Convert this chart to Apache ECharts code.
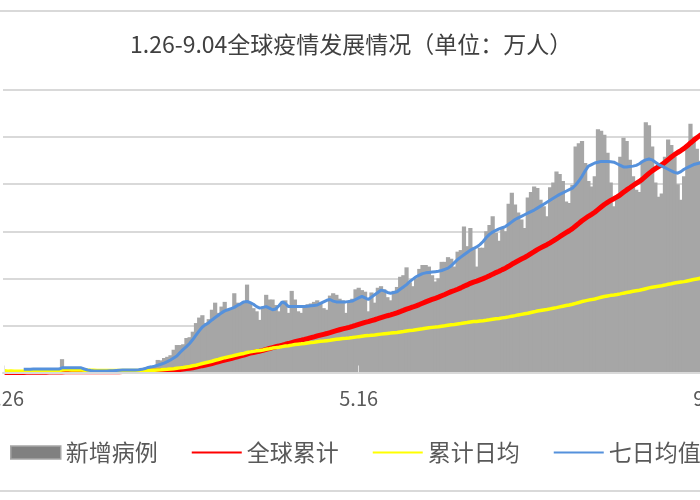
<!DOCTYPE html>
<html><head><meta charset="utf-8">
<script src="https://cdn.jsdelivr.net/npm/echarts@6/dist/echarts.min.js"></script>
<style>html,body{margin:0;padding:0;background:#fff;overflow:hidden}#c{width:700px;height:500px}</style>
</head><body><div id="c"></div>
<script>
// categories: daily dates 1.26 .. 9.04 (format m.dd)
const monthSpans = [[1,26,31],[2,1,29],[3,1,31],[4,1,30],[5,1,31],[6,1,30],[7,1,31],[8,1,31],[9,1,4]];
const dates = [];
monthSpans.forEach(function(s){ for (let d = s[1]; d <= s[2]; d++) dates.push(s[0] + '.' + (d < 10 ? '0' + d : d)); });

const titleText = '1.26-9.04全球疫情发展情况（单位：万人）';
const seriesNames = ['新增病例', '全球累计', '累计日均', '七日均值'];

// 新增病例 (万人)
const newCases = [
0.07,0.08,0.27,0.06,0.21,0.17,0.21,
0.47,0.31,0.40,0.37,0.32,0.36,0.27,
0.30,0.26,0.20,0.04,1.70,0.65,0.21,
0.22,0.20,0.19,0.05,0.06,0.06,0.18,
0.04,0.06,0.08,0.10,0.14,0.14,0.19,
0.24,0.19,0.25,0.23,0.28,0.39,0.40,
0.40,0.38,0.45,0.55,0.60,0.75,1.60,
1.55,1.85,2.00,2.20,2.90,3.50,3.50,
3.60,4.40,4.50,5.20,6.30,7.00,7.30,
6.30,6.80,8.00,8.90,7.60,8.40,9.00,
8.00,8.20,10.10,8.90,8.80,9.10,11.20,
8.90,8.20,7.80,6.70,8.40,9.90,9.30,
9.30,8.60,7.80,9.00,9.20,7.60,10.40,
9.30,7.80,7.60,8.40,8.70,8.80,9.00,
9.20,8.90,8.20,8.00,9.80,10.10,9.90,
9.40,9.20,7.60,9.10,9.40,10.60,10.80,
10.50,10.30,7.80,10.20,8.90,10.80,11.00,
10.60,9.60,9.20,10.40,10.90,12.20,12.40,
13.40,11.50,11.00,12.00,13.20,13.70,13.70,
13.50,12.40,11.60,12.00,14.10,14.10,14.70,
14.50,13.50,15.40,15.60,18.60,16.10,18.40,
16.00,13.50,15.90,15.90,18.00,18.80,19.90,
17.80,16.80,18.50,18.00,21.50,22.90,21.40,
20.40,19.50,18.40,22.30,23.00,23.70,23.50,
22.00,21.20,19.90,23.60,24.20,25.60,25.30,
24.40,21.80,21.60,23.90,28.80,29.20,29.50,
26.70,24.40,23.70,25.00,31.00,30.80,30.30,
28.00,24.20,21.20,22.50,27.50,29.90,29.50,
27.10,25.00,23.30,23.00,27.00,31.90,31.50,
28.80,24.20,22.40,22.80,27.50,29.70,29.00,
27.50,24.00,22.00,25.00,28.80,31.70,30.00,
28.50,27.00,25.00,28.50,29.50,31.50
];

// 全球累计 (万人, right axis)
const cumulative = [
0.21,0.29,0.56,0.62,0.83,1.00,1.21,
1.68,1.99,2.39,2.76,3.08,3.44,3.71,
4.01,4.27,4.47,4.51,6.21,6.86,7.07,
7.29,7.49,7.68,7.73,7.79,7.85,8.03,
8.07,8.13,8.21,8.31,8.45,8.59,8.78,
9.02,9.21,9.46,9.69,9.97,10.36,10.76,
11.16,11.54,11.99,12.54,13.14,13.89,15.49,
17.0,18.9,20.9,23.1,26.0,29.5,33.0,
36.6,41.0,45.5,50.7,57.0,64.6,72.4,
79.1,86.5,95.2,104.8,113.2,122.6,132.6,
140.3,148.2,158.7,167.1,176.3,184.8,196.3,
205.5,212.9,220.9,226.6,235.2,245.3,254.8,
264.3,273.0,281.0,290.2,299.6,307.3,317.9,
327.4,335.4,343.1,351.7,360.6,369.5,378.7,
388.1,397.2,405.5,413.7,423.7,434.0,444.1,
453.7,463.1,470.8,480.1,489.7,500.5,511.5,
522.2,532.7,540.7,551.1,560.2,571.2,582.4,
593.2,603.0,612.4,623.0,634.1,646.6,659.2,
672.9,684.6,695.8,708.1,721.5,735.5,749.5,
763.3,775.9,787.7,800.0,814.4,828.7,843.7,
858.5,870.6,884.5,898.6,915.6,930.1,946.8,
960.1,970.7,983.7,996.6,1011.5,1027.0,1044.6,
1061.1,1075.5,1092.6,1108.1,1128.0,1149.3,1167.9,
1186.7,1204.5,1221.2,1241.6,1262.8,1283.2,1304.6,
1323.3,1341.0,1357.4,1377.3,1397.7,1419.3,1442.0,
1463.8,1484.7,1505.3,1528.2,1555.7,1583.6,1611.8,
1635.6,1658.9,1679.8,1701.9,1729.6,1757.1,1784.0,
1806.8,1827.8,1845.9,1865.2,1887.2,1913.4,1939.1,
1962.5,1986.0,2007.9,2029.5,2054.9,2084.9,2114.5,
2141.6,2164.3,2185.4,2206.8,2232.7,2260.6,2287.9,
2313.7,2336.3,2357.0,2380.4,2407.5,2437.3,2465.5,
2492.3,2517.7,2541.2,2568.0,2595.7,2625.3
];

// 累计日均 (万人)
const dailyAverage = [
0.21,0.15,0.19,0.16,0.17,0.17,0.17,
0.21,0.22,0.24,0.25,0.26,0.26,0.27,
0.27,0.27,0.26,0.25,0.33,0.34,0.34,
0.33,0.33,0.32,0.31,0.30,0.29,0.29,
0.28,0.27,0.26,0.26,0.26,0.25,0.25,
0.25,0.25,0.25,0.25,0.25,0.25,0.26,
0.26,0.26,0.27,0.27,0.28,0.29,0.32,
0.34,0.37,0.40,0.44,0.48,0.54,0.59,
0.64,0.71,0.77,0.85,0.93,1.04,1.15,
1.24,1.33,1.44,1.56,1.66,1.78,1.89,
1.98,2.06,2.17,2.26,2.35,2.43,2.55,
2.63,2.69,2.76,2.80,2.87,2.96,3.03,
3.11,3.17,3.23,3.30,3.37,3.41,3.49,
3.56,3.61,3.65,3.70,3.76,3.81,3.86,
3.92,3.97,4.01,4.06,4.11,4.17,4.23,
4.28,4.33,4.36,4.40,4.45,4.51,4.57,
4.62,4.67,4.70,4.75,4.79,4.84,4.89,
4.94,4.98,5.02,5.07,5.11,5.17,5.23,
5.30,5.35,5.39,5.45,5.51,5.57,5.64,
5.70,5.75,5.79,5.84,5.90,5.96,6.03,
6.09,6.13,6.19,6.24,6.31,6.37,6.44,
6.49,6.51,6.56,6.60,6.65,6.71,6.78,
6.85,6.89,6.96,7.01,7.09,7.18,7.25,
7.34,7.41,7.48,7.55,7.65,7.73,7.83,
7.90,7.97,8.03,8.11,8.19,8.27,8.36,
8.45,8.53,8.61,8.70,8.81,8.92,9.04,
9.13,9.22,9.29,9.37,9.48,9.59,9.68,
9.76,9.83,9.88,9.94,10.02,10.11,10.19,
10.27,10.35,10.42,10.49,10.57,10.68,10.78,
10.87,10.94,11.00,11.06,11.14,11.24,11.31,
11.40,11.46,11.52,11.58,11.67,11.76,11.84,
11.92,12.00,12.06,12.14,12.21,12.30
];

// 七日均值 (万人)
const sevenDayAvg = [
null,null,null,null,null,null,
0.40,0.42,0.43,0.44,0.45,0.45,0.45,0.45,
0.45,0.45,0.44,0.44,0.60,0.62,0.62,
0.62,0.62,0.61,0.60,0.45,0.32,0.25,
0.20,0.20,0.20,0.20,0.20,0.21,0.22,
0.26,0.30,0.32,0.32,0.32,0.32,0.33,
0.35,0.40,0.50,0.65,0.72,0.80,0.92,
1.05,1.20,1.38,1.60,1.85,2.10,2.55,
2.95,3.30,3.70,4.20,4.75,5.30,5.80,
6.10,6.35,6.70,7.00,7.30,7.60,7.85,
8.00,8.15,8.30,8.55,8.75,9.00,9.05,
8.90,8.70,8.40,8.20,8.30,8.40,8.20,
8.00,8.10,8.50,9.00,8.80,8.40,8.40,
8.40,8.40,8.40,8.40,8.45,8.50,8.55,
8.60,8.80,9.00,9.20,9.30,9.10,9.00,
9.00,9.00,9.00,9.05,9.10,9.30,9.50,
9.70,9.50,9.30,9.60,9.90,10.20,10.50,
10.40,10.20,10.10,10.20,10.30,10.60,10.90,
11.20,11.60,11.90,12.20,12.40,12.60,12.70,
12.75,12.80,12.85,12.90,13.00,13.15,13.30,
13.60,14.00,14.40,14.70,15.00,15.30,15.60,
15.80,16.00,16.30,16.70,17.20,17.60,17.90,
18.10,18.30,18.45,18.60,18.90,19.20,19.50,
19.70,19.90,20.10,20.30,20.50,20.70,20.95,
21.20,21.45,21.70,21.95,22.20,22.45,22.70,
22.90,23.10,23.30,23.50,23.90,24.40,25.00,
25.70,26.30,26.50,26.70,26.80,26.90,26.90,
26.90,26.85,26.80,26.60,26.40,26.20,26.20,
26.25,26.30,26.40,26.60,26.90,27.10,27.20,
27.10,26.80,26.50,26.30,26.10,25.90,25.70,
25.50,25.40,25.60,25.90,26.10,26.30,26.50,
26.60,26.70,26.80,26.90,27.00,27.20
];

[newCases, cumulative, dailyAverage, sevenDayAvg].forEach(function(a, k){
  if (a.length !== dates.length) throw new Error('length mismatch in series ' + k + ': ' + a.length + ' vs ' + dates.length);
});

const FONT = '"Noto Sans CJK SC", "Microsoft YaHei", sans-serif';
const hiddenDot = {opacity: 0, color: 'rgba(0,0,0,0)', borderWidth: 0};
const chart = echarts.init(document.getElementById('c'), null, {renderer: 'canvas'});
chart.setOption({
  animation: false,
  backgroundColor: '#ffffff',
  title: {
    text: titleText, left: 130, top: 33, padding: 0,
    textStyle: {fontFamily: FONT, fontSize: 23, fontWeight: 'normal', color: '#404040'}
  },
  legend: {
    left: 10, top: 441, width: 900, padding: 0, itemGap: 33, itemWidth: 50, itemHeight: 13,
    textStyle: {fontFamily: FONT, fontSize: 23, color: '#595959'},
    data: [
      {name: seriesNames[0], icon: 'rect', itemStyle: {color: '#808080', borderColor: '#a6a6a6', borderWidth: 1.5, decal: 'none'}},
      {name: seriesNames[1], itemStyle: hiddenDot},
      {name: seriesNames[2], itemStyle: hiddenDot},
      {name: seriesNames[3], itemStyle: hiddenDot}
    ]
  },
  graphic: [
    {type: 'line', shape: {x1: 0, y1: 11, x2: 700, y2: 11}, style: {stroke: '#d9d9d9', lineWidth: 2}, silent: true},
    {type: 'line', shape: {x1: 0, y1: 491, x2: 700, y2: 491}, style: {stroke: '#d9d9d9', lineWidth: 2}, silent: true}
  ],
  grid: {left: 3, top: 90, width: 711.4, height: 282.5, containLabel: false, outerBoundsMode: 'none'},
  xAxis: {
    type: 'category', data: dates, boundaryGap: true, z: 5,
    axisLine: {lineStyle: {color: '#d9d9d9', width: 2}},
    axisTick: {show: true, inside: true, length: 7, interval: 110, alignWithLabel: true, lineStyle: {color: '#e3e3e3', width: 1}},
    axisLabel: {interval: 110, fontFamily: FONT, fontSize: 20, color: '#595959', margin: 16, hideOverlap: false},
    splitLine: {show: false}
  },
  yAxis: [
    {type: 'value', min: 0, max: 36, interval: 6,
     axisLine: {show: false}, axisTick: {show: false}, axisLabel: {show: false},
     splitLine: {lineStyle: {color: '#d9d9d9', width: 2}}},
    {type: 'value', min: 0, max: 3000, interval: 500, show: false, splitLine: {show: false}}
  ],
  series: [
    {name: seriesNames[0], type: 'bar', data: newCases, barWidth: 4.2,
     itemStyle: {color: '#a6a6a6'}},
    {name: seriesNames[1], type: 'line', yAxisIndex: 1, data: cumulative, symbol: 'none',
     lineStyle: {color: '#ff0000', width: 5}, itemStyle: {color: '#ff0000'}},
    {name: seriesNames[2], type: 'line', data: dailyAverage, symbol: 'none',
     lineStyle: {color: '#ffff00', width: 3.5}, itemStyle: {color: '#ffff00'}},
    {name: seriesNames[3], type: 'line', data: sevenDayAvg, symbol: 'none',
     lineStyle: {color: '#5591dc', width: 3}, itemStyle: {color: '#5591dc'}}
  ]
});
</script>
</body></html>
